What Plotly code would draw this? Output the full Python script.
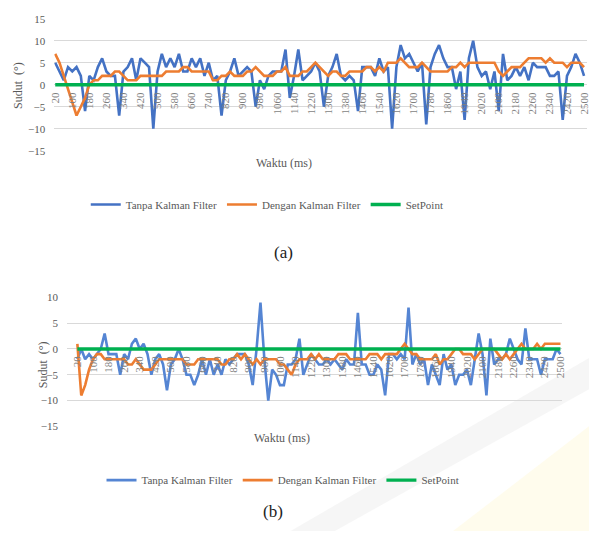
import plotly.graph_objects as go

# ---------------- data ----------------
waktu_ms = list(range(20, 2501, 20))  # 125 samples
tick_labels = [str(v) for v in waktu_ms[::4]]
tick_vals = waktu_ms[::4]

# chart (a)
a_tanpa = [5, 3, 1, 4, 3, 4, 2, -6, 2, 1, 4, 6, 3, 2, 2, -7, 3, 4, 6, 1,
           6, 5, 4, -10, 3, 7, 4, 6, 4, 7, 3, 3, 6, 4, 6, 2, 5, 1, 2, -7,
           1, 3, 6, 2, 3, 4, 3, -5, 1, -1, 2, 3, 3, 3, 8, -3, 2, 8, 1, 2,
           3, 5, 3, -5, 2, 4, 7, 2, 1, 2, 1, -6, 4, 4, 4, 2, 6, 3, 4, -10,
           4, 9, 6, 7, 5, 3, 5, -9, 4, 7, 9, 6, 4, 4, -1, 3, -8, 6, 10, 4,
           2, 3, -1, 3, -6, 7, 1, 2, 4, 2, 4, 1, 5, 4, 4, 4, 2, 2, 3, -8,
           2, 4, 7, 5, 2]
a_dengan = [7, 5, 2, -1, -4, -7, -5, -3, 0, 1, 1, 2, 2, 2, 3, 3, 2, 1, 1, 1,
            2, 2, 2, 2, 2, 2, 3, 3, 3, 3, 4, 4, 3, 3, 3, 3, 3, 1, 1, 2,
            2, 3, 2, 2, 2, 3, 3, 4, 3, 2, 2, 2, 3, 3, 4, 2, 2, 2, 3, 3,
            4, 5, 4, 3, 2, 3, 3, 2, 2, 3, 3, 3, 3, 4, 4, 3, 4, 3, 5, 5,
            5, 6, 5, 4, 4, 4, 5, 4, 3, 3, 3, 3, 3, 4, 4, 5, 4, 5, 5, 5,
            5, 5, 5, 5, 3, 2, 3, 4, 4, 4, 5, 6, 6, 6, 6, 5, 6, 5, 5, 5,
            4, 5, 5, 5, 4]
a_setpoint = [0] * 125

# chart (b)
b_tanpa = [-2, 0, -2, -1, -2, -1, 0, 3, -1, -1, -1, -5, -1, -2, 1, 2, 0, 1, -1, -5,
           -2, -1, -3, -8, -3, -2, 0, -2, -5, -5, -7, -5, -2, -5, -2, -5, -3, -5, -2, -3,
           -2, -1, -1, -1, -3, -7, 0, 9, -2, -10, -4, -5, -7, -7, -3, -3, -2, 2, -5, -3,
           -1, -2, -3, -3, -2, -3, -2, -3, -4, -2, -3, -3, 7, -3, -3, -5, -5, -3, -4, -9,
           -1, -1, -2, -1, -2, 8, -3, -1, -3, -2, -7, -3, -5, -7, -1, -4, -3, -7, -5, -5,
           -4, -7, -2, 3, -1, -9, 2, -3, -2, -2, -1, 2, 0, -2, -3, 4, -2, -2, -2, -5,
           -2, -2, -2, 0, -1]
b_dengan = [1, -9, -7, -4, -2, -1, -1, -2, -2, -2, -2, -2, -2, -3, -3, -2, -3, -4, -4, -4,
            -3, -2, -2, -2, -2, -2, -2, -2, -3, -3, -3, -2, -2, -2, -2, -2, -2, -3, -3, -2,
            -2, -1, -2, -1, -2, -3, -2, -3, -2, -2, -2, -2, -3, -3, -4, -5, -3, -2, -2, -2,
            -1, -2, -1, -2, -2, -2, -2, -1, -1, -1, -2, -2, -2, -2, -2, -1, -1, -1, -2, -1,
            -1, -1, -1, 0, 1, 0, -1, -1, -2, -2, -2, -2, -1, -3, -2, -2, -1, 0, 0, -1,
            -1, -1, -2, -1, 0, 0, 0, 0, -1, -2, -1, -2, -1, 0, 1, 0, 0, 0, 1, 0,
            1, 1, 1, 1, 1]
b_setpoint = [0] * 125

series_names = ["Tanpa Kalman Filter", "Dengan Kalman Filter", "SetPoint"]

# ---------------- styling ----------------
W, H = 593, 537
FONT = "Liberation Serif, Times New Roman, Tinos, DejaVu Serif, serif"
GREY = "#595959"
XGREY = "#7F7F7F"
GRID = "#D9D9D9"
C_BLUE_A, C_ORANGE, C_GREEN = "#4472C4", "#ED7D31", "#00B050"
C_BLUE_B = "#5585D3"


def px_x(p):
    return p / W


def px_y(p):
    return 1 - p / H


fig = go.Figure()

for (ys, name, col, wd) in [(a_tanpa, series_names[0], C_BLUE_A, 2.6),
                            (a_dengan, series_names[1], C_ORANGE, 2.6),
                            (a_setpoint, series_names[2], C_GREEN, 3.4)]:
    fig.add_trace(go.Scatter(x=waktu_ms, y=ys, name=name, mode="lines",
                             line=dict(color=col, width=wd),
                             xaxis="x", yaxis="y", legend="legend"))

for (ys, name, col, wd) in [(b_tanpa, series_names[0], C_BLUE_B, 2.6),
                            (b_dengan, series_names[1], C_ORANGE, 2.6),
                            (b_setpoint, series_names[2], C_GREEN, 3.4)]:
    fig.add_trace(go.Scatter(x=waktu_ms, y=ys, name=name, mode="lines",
                             line=dict(color=col, width=wd),
                             xaxis="x2", yaxis="y2", legend="legend2"))

ytickfont = dict(family=FONT, size=11, color=GREY)
xtickfont = dict(family=FONT, size=11, color=XGREY)

common_x = dict(tickmode="array", tickvals=tick_vals, ticktext=tick_labels,
                tickangle=-90, tickfont=xtickfont, showgrid=False, zeroline=False,
                showline=False, ticks="", anchor="free", ticklabelstandoff=4,
                ticklabeloverflow="allow")
common_y = dict(tickmode="array", tickvals=[-15, -10, -5, 0, 5, 10, 15],
                tickfont=ytickfont, showgrid=True, gridcolor=GRID, gridwidth=1,
                zeroline=False, showline=False, ticks="", ticklabelstandoff=8)

fig.update_layout(
    width=W, height=H,
    margin=dict(l=0, r=0, t=0, b=0),
    paper_bgcolor="white", plot_bgcolor="rgba(0,0,0,0)",
    font=dict(family=FONT, color=GREY),
    xaxis=dict(common_x, domain=[px_x(50), px_x(591)], range=[15.4, 2514],
               position=px_y(81)),
    yaxis=dict(common_y, domain=[px_y(148), px_y(13)], range=[-15, 15],
               anchor="x"),
    xaxis2=dict(common_x, domain=[px_x(63), px_x(566)], range=[-33, 2510],
                position=px_y(351)),
    yaxis2=dict(common_y, domain=[px_y(430), px_y(298)], range=[-15, 10],
                anchor="x2"),
    legend=dict(orientation="h", x=px_x(82), y=px_y(203), xanchor="left",
                yanchor="middle", font=dict(family=FONT, size=11, color=GREY),
                bgcolor="rgba(0,0,0,0)"),
    legend2=dict(orientation="h", x=px_x(98), y=px_y(485), xanchor="left",
                 yanchor="middle", font=dict(family=FONT, size=11, color=GREY),
                 bgcolor="rgba(0,0,0,0)"),
    showlegend=True,
)

# faint watermark of the scanned source page (bottom-right)
def path(points):
    return "M " + " L ".join(f"{px_x(x):.4f},{px_y(y):.4f}" for x, y in points) + " Z"

fig.add_shape(type="path", xref="paper", yref="paper", layer="below",
              path=path([(593, 430), (593, 537), (455, 537)]),
              fillcolor="rgba(255,240,175,0.22)", line=dict(width=0))
fig.add_shape(type="path", xref="paper", yref="paper", layer="below",
              path=path([(593, 360), (593, 392), (335, 537), (290, 537)]),
              fillcolor="rgba(200,200,200,0.16)", line=dict(width=0))

ann = [
    dict(text="Waktu (ms)", x=px_x(283), y=px_y(161)),
    dict(text="Waktu (ms)", x=px_x(281), y=px_y(442)),
    dict(text="Sudut  (°)", x=px_x(13), y=px_y(81), textangle=-90),
    dict(text="Sudut  (°)", x=px_x(38), y=px_y(367), textangle=-90),
]
for a in ann:
    fig.add_annotation(xref="paper", yref="paper", showarrow=False,
                       font=dict(family=FONT, size=12, color=GREY),
                       xanchor="center", yanchor="middle", **a)

fig.add_annotation(text="(a)", xref="paper", yref="paper", x=px_x(283), y=px_y(252),
                   showarrow=False, xanchor="center", yanchor="middle",
                   font=dict(family=FONT, size=17, color="#222222"))
fig.add_annotation(text="(b)", xref="paper", yref="paper", x=px_x(272), y=px_y(517),
                   showarrow=False, xanchor="center", yanchor="middle",
                   font=dict(family=FONT, size=17, color="#222222"))

fig.write_html("out.html", config={"displayModeBar": False},
               post_script="document.body.style.margin='0';document.body.style.padding='0';")
